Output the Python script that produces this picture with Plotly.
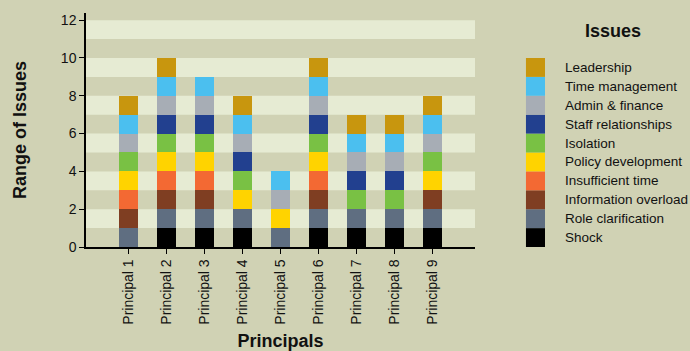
import plotly.graph_objects as go

# Principals along the x axis
principals = [f"Principal {i}" for i in range(1, 10)]

# Issues, listed bottom of the stack first
issues = [
    "Shock",
    "Role clarification",
    "Information overload",
    "Insufficient time",
    "Policy development",
    "Isolation",
    "Staff relationships",
    "Admin & finance",
    "Time management",
    "Leadership",
]

# 1 = principal reported the issue, 0 = not reported
shock                = [0, 1, 1, 1, 0, 1, 1, 1, 1]
role_clarification   = [1, 1, 1, 1, 1, 1, 1, 1, 1]
information_overload = [1, 1, 1, 0, 0, 1, 0, 0, 1]
insufficient_time    = [1, 1, 1, 0, 0, 1, 0, 0, 0]
policy_development   = [1, 1, 1, 1, 1, 1, 0, 0, 1]
isolation            = [1, 1, 1, 1, 0, 1, 1, 1, 1]
staff_relationships  = [0, 1, 1, 1, 0, 1, 1, 1, 0]
admin_finance        = [1, 1, 1, 1, 1, 1, 1, 1, 1]
time_management      = [1, 1, 1, 1, 1, 1, 1, 1, 1]
leadership           = [1, 1, 0, 1, 0, 1, 1, 1, 1]

series = [
    shock, role_clarification, information_overload, insufficient_time,
    policy_development, isolation, staff_relationships, admin_finance,
    time_management, leadership,
]

colors = [
    "#000000", "#5F6E81", "#7F3E22", "#F36933", "#FFD300",
    "#79C144", "#22408F", "#A7ADB5", "#4BBFEF", "#C8960E",
]

y_ticks = [0, 2, 4, 6, 8, 10, 12]

BG = "#D0D2B4"
BAND = "#E6EBD3"
FONT = "Liberation Sans, Arial, sans-serif"
INK = "#111111"

fig = go.Figure()
for name, vals, col in zip(issues, series, colors):
    fig.add_trace(go.Bar(
        x=principals, y=vals, name=name,
        marker=dict(color=col, line=dict(width=0)),
        width=0.5, showlegend=False,
    ))

shapes = []
# alternating light bands behind the bars
for lo in range(1, 12, 2):
    shapes.append(dict(type="rect", xref="paper", yref="y", x0=0, x1=1,
                       y0=lo, y1=lo + 1, fillcolor=BAND, line=dict(width=0),
                       layer="below"))

annotations = []
# legend: colour blocks stacked in the same order as the bars
for i, (name, col) in enumerate(zip(issues, colors)):
    shapes.append(dict(type="rect", xref="paper", yref="y", x0=1.131, x1=1.18,
                       y0=i, y1=i + 1, fillcolor=col, line=dict(width=0)))
    annotations.append(dict(xref="paper", yref="y", x=1.227, y=i + 0.5,
                            text=name, showarrow=False, xanchor="left",
                            yanchor="middle",
                            font=dict(family=FONT, size=13.5, color=INK)))
annotations.append(dict(xref="paper", yref="y", x=1.355, y=11.45,
                        text="<b>Issues</b>", showarrow=False,
                        xanchor="center", yanchor="middle",
                        font=dict(family=FONT, size=18, color=INK)))

fig.update_layout(
    barmode="stack",
    width=690, height=351,
    margin=dict(l=86, r=215, t=13, b=104),
    paper_bgcolor=BG, plot_bgcolor=BG,
    font=dict(family=FONT, size=14, color=INK),
    shapes=shapes, annotations=annotations,
    bargap=0.5,
)
fig.update_xaxes(
    range=[-1.13, 9.13], tickangle=-90, automargin=False,
    tickfont=dict(family=FONT, size=14, color=INK),
    showline=True, linecolor="black", linewidth=1.5,
    ticks="outside", ticklen=5, tickcolor="black", showgrid=False,
    title=dict(text="<b>Principals</b>", font=dict(size=18, family=FONT, color=INK),
               standoff=12),
)
fig.update_yaxes(
    range=[0, 12.38], tickvals=y_ticks, automargin=False,
    tickfont=dict(family=FONT, size=14, color=INK),
    showline=True, linecolor="black", linewidth=1.5,
    ticks="outside", ticklen=5, tickcolor="black", showgrid=False,
    zeroline=False,
    title=dict(text="<b>Range of Issues</b>", font=dict(size=18, family=FONT, color=INK),
               standoff=30),
)

fig.write_html("out.html")
